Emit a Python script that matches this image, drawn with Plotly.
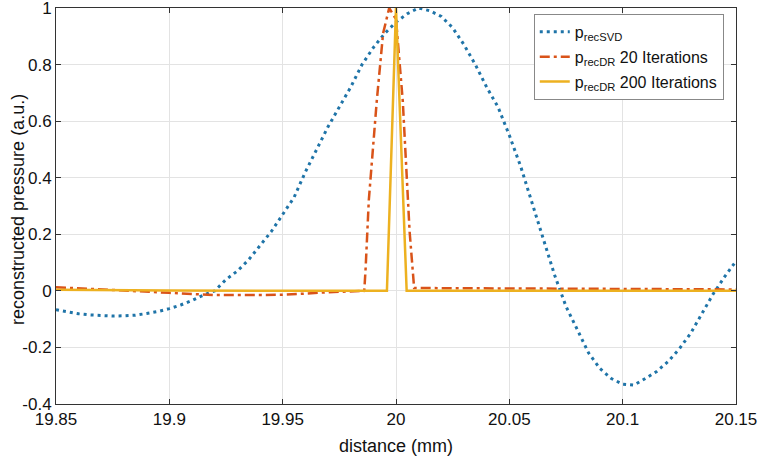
import plotly.graph_objects as go

# ---- data ----
svd_x = [19.850, 19.855, 19.860, 19.865, 19.870, 19.875, 19.880, 19.885, 19.890, 19.895,
         19.900, 19.905, 19.910, 19.915, 19.920, 19.925, 19.930, 19.935, 19.940, 19.945,
         19.950, 19.955, 19.960, 19.965, 19.970, 19.975, 19.980, 19.985, 19.990, 19.995,
         20.000, 20.005, 20.010, 20.015, 20.020, 20.025, 20.030, 20.035, 20.040, 20.045,
         20.050, 20.055, 20.060, 20.065, 20.070, 20.075, 20.080, 20.085, 20.090, 20.095,
         20.100, 20.105, 20.110, 20.115, 20.120, 20.125, 20.130, 20.135, 20.140, 20.145,
         20.150]
svd_y = [-0.067, -0.075, -0.081, -0.085, -0.088, -0.089, -0.088, -0.086, -0.080, -0.073,
         -0.063, -0.050, -0.034, -0.015, 0.000, 0.040, 0.070, 0.110, 0.160, 0.210,
         0.270, 0.330, 0.420, 0.500, 0.580, 0.650, 0.720, 0.800, 0.860, 0.910,
         0.950, 0.980, 1.000, 0.990, 0.970, 0.930, 0.870, 0.800, 0.720, 0.650,
         0.550, 0.440, 0.310, 0.180, 0.055, -0.055, -0.140, -0.220, -0.275, -0.310,
         -0.330, -0.333, -0.310, -0.285, -0.250, -0.205, -0.150, -0.080, -0.010, 0.050,
         0.105]

dr20_x = [19.850, 19.870, 19.885, 19.900, 19.920, 19.950, 19.970, 19.986, 19.9866, 19.988,
          19.9915, 19.9943, 19.997, 20.000, 20.003, 20.006, 20.008, 20.050, 20.100, 20.150]
dr20_y = [0.013, 0.006, 0.000, -0.007, -0.015, -0.014, -0.005, 0.000, 0.080, 0.320,
          0.670, 0.910, 1.000, 0.960, 0.670, 0.210, 0.010, 0.008, 0.007, 0.005]

dr200_x = [19.850, 19.900, 19.996, 20.000, 20.0047, 20.150]
dr200_y = [0.004, 0.001, 0.000, 1.000, 0.000, 0.000]

x_ticks = [19.85, 19.9, 19.95, 20, 20.05, 20.1, 20.15]
x_tick_labels = ["19.85", "19.9", "19.95", "20", "20.05", "20.1", "20.15"]
y_ticks = [-0.4, -0.2, 0, 0.2, 0.4, 0.6, 0.8, 1]
y_tick_labels = ["-0.4", "-0.2", "0", "0.2", "0.4", "0.6", "0.8", "1"]

names = ["p<sub>recSVD</sub>", "p<sub>recDR</sub> 20 Iterations", "p<sub>recDR</sub> 200 Iterations"]
colors = ["#1f74a8", "#D95319", "#EDB120"]

FONT = "Liberation Sans, Arial, sans-serif"

fig = go.Figure()
fig.add_trace(go.Scatter(x=svd_x, y=svd_y, mode="lines", name=names[0], legendgroup="a",
                         line=dict(color=colors[0], width=3, dash="3px,4px")))
fig.add_trace(go.Scatter(x=dr20_x, y=dr20_y, mode="lines", name=names[1], legendgroup="b",
                         line=dict(color=colors[1], width=2.5, dash="10px,4px,3px,4px")))
fig.add_trace(go.Scatter(x=dr200_x, y=dr200_y, mode="lines", name=names[2], legendgroup="c",
                         line=dict(color=colors[2], width=2.5)))

axis_common = dict(
    showline=True, linecolor="#333333", linewidth=1, mirror="ticks",
    ticks="inside", ticklen=5, tickcolor="#333333",
    showgrid=True, gridcolor="#e3e3e3", gridwidth=1,
    zeroline=False, tickfont=dict(family=FONT, size=17, color="#111111"),
    ticklabeloverflow="allow", automargin=False,
)

fig.update_layout(
    template="none",
    width=762, height=458,
    margin=dict(l=56, r=26, t=8, b=54, pad=0),
    paper_bgcolor="white", plot_bgcolor="white",
    font=dict(family=FONT, color="#111111"),
    xaxis=dict(range=[19.85, 20.15], tickvals=x_ticks, ticktext=x_tick_labels,
               title=dict(text="distance (mm)", font=dict(family=FONT, size=18), standoff=10),
               **axis_common),
    yaxis=dict(range=[-0.4, 1.0], tickvals=y_ticks, ticktext=y_tick_labels,
               **axis_common),
    legend=dict(x=0.982, y=0.985, xanchor="right", yanchor="top",
                bgcolor="white", bordercolor="#888888", borderwidth=1,
                font=dict(family=FONT, size=16, color="#111111"),
                tracegroupgap=1, itemwidth=30),
    showlegend=True,
    annotations=[dict(text="reconstructed pressure (a.u.)", xref="paper", yref="paper",
                      x=0, y=0.49, xshift=-38, textangle=-90, showarrow=False,
                      xanchor="center", yanchor="middle",
                      font=dict(family=FONT, size=18, color="#111111"))],
)

fig.write_html(
    "out.html",
    config={"displayModeBar": False},
    post_script="document.body.style.margin='0';document.body.style.overflow='hidden';",
)
